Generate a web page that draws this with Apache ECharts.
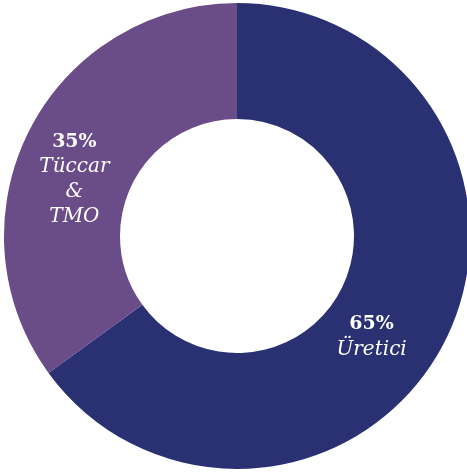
<!DOCTYPE html>
<html>
<head>
<meta charset="utf-8">
<style>
  html, body { margin: 0; padding: 0; background: #fff; }
  #chart { width: 467px; height: 472px; }
</style>
<script src="https://cdn.jsdelivr.net/npm/echarts@6/dist/echarts.min.js"></script>
</head>
<body>
<div id="chart"></div>
<script>
  const names = ['Üretici', 'Tüccar\n&\nTMO'];
  const values = [65, 35];
  const colors = ['#2a3172', '#6a4c89'];
  const offsets = [[-24, 20], [-4, 24]];

  const data = names.map((name, i) => ({
    name: name,
    value: values[i],
    itemStyle: {color: colors[i]},
    label: {offset: offsets[i]}
  }));

  const chart = echarts.init(document.getElementById('chart'));
  chart.setOption({
    animation: false,
    series: [{
      type: 'pie',
      center: [237, 236],
      radius: [117, 233],
      startAngle: 90,
      clockwise: true,
      labelLine: {show: false},
      label: {
        position: 'inside',
        color: '#fff',
        formatter(p) {
          const lines = p.name.split('\n').map(s => '{i|' + s + '}').join('\n');
          return '{b|' + p.value + '%}\n' + lines;
        },
        rich: {
          b: {fontFamily: 'DejaVu Serif', fontWeight: 'bold', fontSize: 19, lineHeight: 25, color: '#fff'},
          i: {fontFamily: 'DejaVu Serif', fontStyle: 'italic', fontSize: 20, lineHeight: 25, color: '#fff'}
        }
      },
      emphasis: {disabled: true},
      data: data
    }]
  });
</script>
</body>
</html>
